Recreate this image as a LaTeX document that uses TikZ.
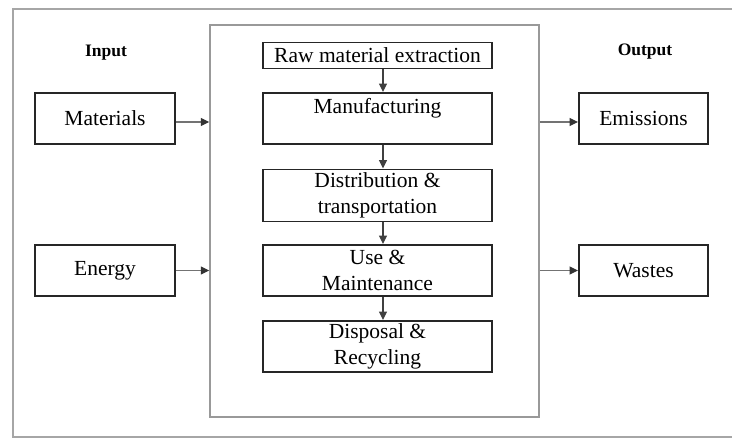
\documentclass[tikz,border=0pt]{standalone}
\usepackage{fontspec}
\setmainfont{Liberation Serif}
\usetikzlibrary{arrows.meta}
\begin{document}
\begin{tikzpicture}[x=1pt,y=-1pt,
  stage/.style={draw=black!85, line width=1.9pt, rectangle, inner sep=0pt, align=center,
    font=\fontsize{21.5}{26}\selectfont, text=black},
  frame/.style={draw=black!40, line width=1.5pt, rectangle, inner sep=0pt},
  head/.style={font=\bfseries\fontsize{17.5}{20}\selectfont, text=black},
  flow/.style={line width=1.2pt, -{Triangle[length=8.5pt,width=8pt]}},
  grayflow/.style={flow, draw=black!55, -{Triangle[length=8.5pt,width=8pt,fill=black!80,color=black!80]}}
]
\useasboundingbox (0,0) rectangle (734,438);
% outer frame (right edge off the page)
\draw[black!35, line width=1.4pt] (732,9) -- (13,9) -- (13,437) -- (732,437);
% life cycle frame
\node[frame, minimum width=329pt, minimum height=392pt] (life) at (374.5,221) {};
% stages
\node[stage, minimum width=229pt, minimum height=26pt] (raw) at (377.5,55.5) {Raw material extraction};
\node[stage, minimum width=229pt, minimum height=51pt] (man) at (377.5,118.5) {Manufacturing\\ \mbox{}};
\node[stage, minimum width=229pt, minimum height=52pt] (dist) at (377.5,195.5) {Distribution \&\\ transportation};
\node[stage, minimum width=229pt, minimum height=51pt] (use) at (377.5,270.5) {Use \&\\ Maintenance};
\node[stage, minimum width=229pt, minimum height=51pt] (disp) at (377.5,346.5) {Disposal \&\\ Recycling};
% inputs
\node[head] (in) at (106,53) {Input};
\node[stage, minimum width=140pt, minimum height=51pt] (mat) at (105,118.5) {Materials};
\node[stage, minimum width=140pt, minimum height=51pt] (en) at (105,270.5) {Energy};
% outputs
\node[head] (out) at (645,52) {Output};
\node[stage, minimum width=129pt, minimum height=51pt] (emi) at (643.5,118.5) {Emissions};
\node[stage, minimum width=129pt, minimum height=51pt] (was) at (643.5,270.5) {Wastes};
% vertical flow
\draw[flow, draw=black!75] ([xshift=5.5pt]raw.south) -- ([xshift=5.5pt]man.north);
\draw[flow, draw=black!75] ([xshift=5.5pt]man.south) -- ([xshift=5.5pt]dist.north);
\draw[flow, draw=black!75] ([xshift=5.5pt]dist.south) -- ([xshift=5.5pt]use.north);
\draw[flow, draw=black!75] ([xshift=5.5pt]use.south) -- ([xshift=5.5pt]disp.north);
% in/out arrows
\draw[grayflow] ([yshift=-3.5pt]mat.east) -- ([yshift=-3.5pt]mat.east -| life.west);
\draw[grayflow] (en.east) -- (en.east -| life.west);
\draw[grayflow] ([yshift=-3.5pt]emi.west -| life.east) -- ([yshift=-3.5pt]emi.west);
\draw[grayflow] (was.west -| life.east) -- (was.west);
\end{tikzpicture}
\end{document}
